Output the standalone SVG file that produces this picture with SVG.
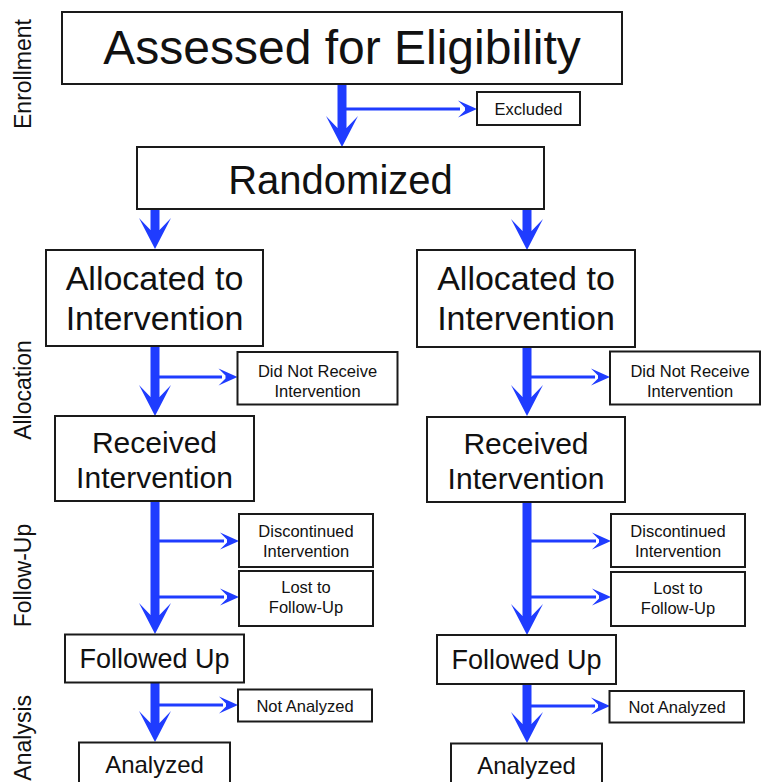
<svg xmlns="http://www.w3.org/2000/svg" width="761" height="782" viewBox="0 0 761 782">
<style>
.box{fill:#fff;stroke:#1a1a1a;stroke-width:2}
.t{font-family:"Liberation Sans",Arial,sans-serif;fill:#111;text-anchor:middle}
.lab{font-family:"Liberation Sans",Arial,sans-serif;fill:#111;font-size:23px}
.shaft{stroke:#1f3cff;stroke-width:9;fill:none}
.br{stroke:#1f3cff;stroke-width:3;fill:none}
.head{fill:#1f3cff}
</style>
<defs>
<path id="bh" d="M0,0 L-16,-31 L-4.5,-19 L4.5,-19 L16,-31 Z"/>
<path id="sh" d="M0,0 L-19,-8.5 L-12,-1.5 L-12,1.5 L-19,8.5 Z"/>
</defs>
<rect width="761" height="782" fill="#fff"/>

<g id="phase-labels">
<text class="lab" text-anchor="middle" transform="translate(31,74) rotate(-90)">Enrollment</text>
<text class="lab" text-anchor="middle" transform="translate(31,390) rotate(-90)">Allocation</text>
<text class="lab" text-anchor="middle" transform="translate(31,575.5) rotate(-90)">Follow-Up</text>
<text class="lab" text-anchor="end" transform="translate(31,695) rotate(-90)">Analysis</text>
</g>

<g id="connectors">
<line class="shaft" x1="342" y1="84" x2="342" y2="129"/>
<use class="head" href="#bh" transform="translate(342,147)"/>
<line class="br" x1="342" y1="109" x2="460" y2="109"/>
<use class="head" href="#sh" transform="translate(477,109)"/>
<line class="shaft" x1="155" y1="209" x2="155" y2="231"/>
<use class="head" href="#bh" transform="translate(155,249)"/>
<line class="shaft" x1="527" y1="209" x2="527" y2="232"/>
<use class="head" href="#bh" transform="translate(527,250)"/>
<line class="shaft" x1="155" y1="346" x2="155" y2="398"/>
<use class="head" href="#bh" transform="translate(155,416)"/>
<line class="br" x1="155" y1="377" x2="222" y2="377"/>
<use class="head" href="#sh" transform="translate(237.5,377)"/>
<line class="shaft" x1="527" y1="347" x2="527" y2="398"/>
<use class="head" href="#bh" transform="translate(527,416)"/>
<line class="br" x1="527" y1="377" x2="595" y2="377"/>
<use class="head" href="#sh" transform="translate(610,377)"/>
<line class="shaft" x1="155" y1="501" x2="155" y2="616"/>
<use class="head" href="#bh" transform="translate(155,634)"/>
<line class="br" x1="155" y1="541" x2="224" y2="541"/>
<use class="head" href="#sh" transform="translate(239,541)"/>
<line class="br" x1="155" y1="597" x2="224" y2="597"/>
<use class="head" href="#sh" transform="translate(239,597)"/>
<line class="shaft" x1="527" y1="502" x2="527" y2="617"/>
<use class="head" href="#bh" transform="translate(527,635)"/>
<line class="br" x1="527" y1="541" x2="596" y2="541"/>
<use class="head" href="#sh" transform="translate(611,541)"/>
<line class="br" x1="527" y1="597" x2="596" y2="597"/>
<use class="head" href="#sh" transform="translate(611,597)"/>
<line class="shaft" x1="155" y1="683" x2="155" y2="723"/>
<use class="head" href="#bh" transform="translate(155,742)"/>
<line class="br" x1="155" y1="705" x2="223" y2="705"/>
<use class="head" href="#sh" transform="translate(238,705)"/>
<line class="shaft" x1="527" y1="684" x2="527" y2="724"/>
<use class="head" href="#bh" transform="translate(527,743)"/>
<line class="br" x1="527" y1="706" x2="595" y2="706"/>
<use class="head" href="#sh" transform="translate(610,706)"/>
</g>

<g id="assessed"><rect class="box" x="62" y="12" width="560" height="72"/><text class="t" x="342" y="64" font-size="48">Assessed for Eligibility</text></g>
<g id="excluded"><rect class="box" x="477" y="92" width="103" height="33"/><text class="t" x="528.5" y="114.5" font-size="16.5">Excluded</text></g>
<g id="randomized"><rect class="box" x="137" y="147" width="407" height="62"/><text class="t" x="340.5" y="194" font-size="40">Randomized</text></g>

<g id="allocated-left"><rect class="box" x="46" y="250" width="217" height="96"/><text class="t" x="154.5" y="290" font-size="34">Allocated to</text><text class="t" x="154.5" y="330" font-size="34">Intervention</text></g>
<g id="allocated-right"><rect class="box" x="417" y="250" width="218" height="97"/><text class="t" x="526" y="290" font-size="34">Allocated to</text><text class="t" x="526" y="330" font-size="34">Intervention</text></g>

<g id="notreceived-left"><rect class="box" x="237.5" y="352" width="160" height="52.5"/><text class="t" x="317.5" y="376.5" font-size="16.5">Did Not Receive</text><text class="t" x="317.5" y="397" font-size="16.5">Intervention</text></g>
<g id="notreceived-right"><rect class="box" x="610" y="351.5" width="150" height="53"/><text class="t" x="690" y="376.5" font-size="16.5">Did Not Receive</text><text class="t" x="690" y="397" font-size="16.5">Intervention</text></g>

<g id="received-left"><rect class="box" x="55" y="416" width="199" height="85"/><text class="t" x="154.5" y="453" font-size="30">Received</text><text class="t" x="154.5" y="488" font-size="30">Intervention</text></g>
<g id="received-right"><rect class="box" x="427" y="417" width="198" height="85"/><text class="t" x="526" y="454" font-size="30">Received</text><text class="t" x="526" y="489" font-size="30">Intervention</text></g>

<g id="discontinued-left"><rect class="box" x="239" y="514" width="134" height="53"/><text class="t" x="306" y="536.7" font-size="16.5">Discontinued</text><text class="t" x="306" y="556.7" font-size="16.5">Intervention</text></g>
<g id="lost-left"><rect class="box" x="239" y="571" width="134" height="55"/><text class="t" x="306" y="593.3" font-size="16.5">Lost to</text><text class="t" x="306" y="613.3" font-size="16.5">Follow-Up</text></g>
<g id="discontinued-right"><rect class="box" x="611" y="514" width="134" height="53"/><text class="t" x="678" y="537" font-size="16.5">Discontinued</text><text class="t" x="678" y="557" font-size="16.5">Intervention</text></g>
<g id="lost-right"><rect class="box" x="611" y="572" width="134" height="54"/><text class="t" x="678" y="594" font-size="16.5">Lost to</text><text class="t" x="678" y="614" font-size="16.5">Follow-Up</text></g>

<g id="followed-left"><rect class="box" x="65" y="634.5" width="179" height="48"/><text class="t" x="154.5" y="668" font-size="27">Followed Up</text></g>
<g id="followed-right"><rect class="box" x="437" y="635" width="179" height="49"/><text class="t" x="526.5" y="669" font-size="27">Followed Up</text></g>

<g id="notanalyzed-left"><rect class="box" x="238" y="689.5" width="134" height="32"/><text class="t" x="305" y="711.5" font-size="16.5">Not Analyzed</text></g>
<g id="notanalyzed-right"><rect class="box" x="609.5" y="691" width="134.5" height="31.5"/><text class="t" x="677" y="712.8" font-size="16.5">Not Analyzed</text></g>

<g id="analyzed-left"><rect class="box" x="79" y="742.5" width="151" height="50"/><text class="t" x="154.5" y="773" font-size="24">Analyzed</text></g>
<g id="analyzed-right"><rect class="box" x="451" y="743.5" width="151" height="50"/><text class="t" x="526.5" y="774" font-size="24">Analyzed</text></g>
</svg>
